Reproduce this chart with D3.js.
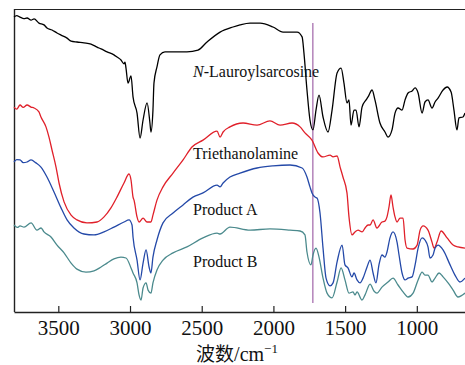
<!DOCTYPE html>
<html>
<head>
<meta charset="utf-8">
<script src="https://cdn.jsdelivr.net/npm/d3@7"></script>
<style>
  html, body { margin: 0; padding: 0; background: #fff; }
  svg { display: block; }
  .serif { font-family: "Liberation Serif", "Times New Roman", Times, serif; }
</style>
</head>
<body>
<svg id="chart" width="465" height="365"></svg>
<script>
// FTIR spectra: [wavenumber (cm-1), transmittance (a.u., offset for stacking)]
const lauroylsarcosine = [
  [3809,98.3],[3790,98.8],[3767,98.3],[3740,97.8],[3718,98],[3690,97.3],[3669,97.7],[3635,96.3],[3600,95.7],[3579,94.7],[3544,94],
  [3509,93],[3481,92.3],[3439,91.3],[3411,90.3],[3370,90],[3321,89.7],[3272,89.3],[3230,88.3],
  [3202,87.7],[3160,86.7],[3112,85.7],[3091,85],[3063,84],[3042,82.7],[3035,83.3],[3028,81.3],
  [3014,76.3],[2993,78.7],[2979,71.7],[2951,66.3],[2930,58],[2909,64],[2881,69.7],[2861,63],
  [2854,60],[2840,67.3],[2833,76.3],[2812,81.7],[2791,85.7],[2756,86.7],[2700,86.7],[2603,86.7],
  [2526,87.3],[2463,90],[2372,93.3],[2282,95],[2233,95.7],[2163,96.3],[2093,96.3],[2003,95],
  [1933,93.3],[1884,93.3],[1835,93.3],[1800,91.7],[1787,86.3],[1766,74],[1745,64],[1724,60.7],
  [1703,67.3],[1682,72.3],[1654,65],[1619,60],[1591,67.3],[1556,79.7],[1528,81.3],[1508,76.3],
  [1487,69.7],[1473,70.7],[1459,62.3],[1438,67.3],[1424,67.3],[1403,61.7],[1382,68.3],[1354,70.7],
  [1340,71.7],[1312,74],[1292,70.7],[1257,63],[1222,60],[1201,58.3],[1173,60.7],[1152,66.3],
  [1131,68],[1103,67.3],[1082,70.7],[1061,73],[1033,73.7],[1012,74.7],[991,73],[963,66.3],
  [943,70],[922,70.7],[894,68],[873,70],[852,71.3],[817,74],[789,75],[761,73.3],[741,67.3],
  [720,60.7],[706,64.7],[678,65],[664,66.3]
];

const triethanolamine = [
  [3809,68.3],[3790,67.6],[3767,69],[3745,68.2],[3718,69],[3690,68.3],[3669,68],[3635,66.7],[3621,65],[3586,61.7],
  [3565,58.3],[3544,54],[3516,48.3],[3495,43],[3460,36.7],[3411,32.3],[3370,30.7],[3300,29.7],
  [3230,30],[3181,31.7],[3133,34.7],[3091,38.3],[3042,43],[3007,46],[2993,44],[2979,38.3],
  [2972,37.3],[2951,31.7],[2937,30],[2909,31.3],[2881,30],[2854,30],[2840,32.3],[2812,37.3],
  [2770,41.7],[2700,46.3],[2630,50.7],[2568,55],[2491,57.3],[2393,60.3],[2372,58.3],[2351,60],
  [2303,61.7],[2212,63],[2114,62.3],[2024,63.7],[1954,62.3],[1870,63],[1814,61.7],[1780,59.7],
  [1731,57.3],[1689,53],[1654,51.7],[1605,52.3],[1584,51.7],[1556,52],[1535,48.3],[1515,45],
  [1487,39.7],[1473,31.7],[1452,25.7],[1431,26.7],[1410,27.3],[1382,26.7],[1361,28],[1340,29],
  [1326,29],[1305,30.7],[1278,28],[1243,30],[1222,30.3],[1208,31.7],[1194,35],[1180,39],
  [1166,35],[1152,31.7],[1138,30],[1117,31.3],[1096,31.3],[1082,24],[1068,21.3],[1026,21],
  [998,22.3],[977,27.3],[956,28.7],[922,27.3],[894,23.3],[880,21.3],[859,23.3],[831,27],
  [789,24.7],[747,22.3],[713,21.7],[664,21.3]
];

const productA = [
  [3809,50],[3790,50.8],[3767,50.7],[3745,49.8],[3718,50],[3690,50.7],[3656,49.7],[3621,48.3],[3579,45],[3530,40],
  [3481,34.7],[3439,30.7],[3391,28],[3321,26],[3251,25.7],[3181,26.7],[3112,28.3],[3042,30],
  [3007,30.7],[2986,29],[2979,25],[2951,17.3],[2930,10.7],[2909,16.3],[2888,20.7],[2867,15],
  [2854,13],[2840,18.3],[2812,24],[2770,29.7],[2700,33],[2630,35.7],[2561,38.3],[2491,39.7],
  [2393,42.3],[2372,41.7],[2351,43],[2303,45],[2233,46.3],[2114,48],[2003,48.7],[1884,49],
  [1800,48],[1766,45],[1745,41.7],[1731,39.7],[1710,38.3],[1696,38],[1675,33],[1654,21.3],
  [1633,11.3],[1605,8.7],[1584,9.7],[1556,16.7],[1521,22.3],[1501,15.7],[1480,14.7],[1452,11.7],
  [1438,13],[1417,10.7],[1396,9.7],[1375,11.3],[1347,15],[1326,17.3],[1305,13],[1285,9.7],
  [1264,15.7],[1243,19],[1222,18.3],[1208,20],[1187,24.7],[1166,26.7],[1138,23.3],[1124,19],
  [1103,13],[1082,10.7],[1061,11.3],[1033,11.7],[1012,15.7],[991,21.3],[963,24.7],[943,24],
  [922,21.7],[908,18],[887,19],[873,21.3],[852,22.3],[817,20.7],[768,15.7],[734,12.3],
  [699,10],[664,11.3]
];

const productB = [
  [3809,29],[3785,28.2],[3767,28.7],[3739,28.3],[3690,29.7],[3649,27.3],[3620,28],[3600,26.7],[3551,25],[3509,22.3],
  [3460,19.7],[3411,16.3],[3370,14.3],[3307,13.3],[3251,13.7],[3202,15],[3160,16.3],[3112,17.7],
  [3063,18.3],[3028,18],[2993,14.7],[2979,13],[2951,9.7],[2937,5.7],[2923,4],[2909,8],
  [2888,9.7],[2874,7.3],[2854,6.3],[2840,9.7],[2812,14],[2770,17.3],[2700,19.7],[2603,21.7],
  [2491,24.7],[2393,26.3],[2372,26],[2303,28.3],[2163,27.3],[2024,27.7],[1884,27.3],[1814,27],
  [1780,25.7],[1766,20],[1738,15.7],[1724,19],[1703,21.3],[1682,18.3],[1654,11.3],[1626,6.3],
  [1591,4.7],[1556,10],[1528,14.7],[1501,10.7],[1473,6.3],[1445,6.7],[1431,5.7],[1417,6.7],
  [1382,4],[1361,5.7],[1326,9.3],[1299,7],[1278,6.3],[1243,8.3],[1201,10],[1166,11.3],
  [1131,9],[1096,6.7],[1061,5],[1026,6.3],[991,10.7],[963,13.3],[943,12.3],[922,12.3],
  [894,10],[873,11.3],[845,13],[817,11.7],[782,9.7],[747,7.3],[713,5],[664,6.3]
];

const seriesNames = ["N-Lauroylsarcosine", "Triethanolamine", "Product A", "Product B"];
const seriesColors = ["#000000", "#e0202a", "#2449a8", "#4b8a8d"];
const tickValues = [3500, 3000, 2500, 2000, 1500, 1000];
const markerWavenumber = 1725;

const svg = d3.select("#chart");
const margin = { left: 14, right: 0, top: 9, bottom: 53 };
const W = 465, H = 365;

const x = d3.scaleLinear().domain([3809, 664]).range([margin.left, W - margin.right]);
const y = d3.scaleLinear().domain([0, 101]).range([H - margin.bottom, margin.top]);

// frame: top border and left axis line
svg.append("line")
  .attr("x1", margin.left).attr("x2", W)
  .attr("y1", margin.top + 0.5).attr("y2", margin.top + 0.5)
  .attr("stroke", "#222").attr("stroke-width", 1.2);
svg.append("line")
  .attr("x1", margin.left + 0.5).attr("x2", margin.left + 0.5)
  .attr("y1", margin.top).attr("y2", H - margin.bottom)
  .attr("stroke", "#222").attr("stroke-width", 1.4);

// bottom axis with inward ticks
const xAxis = d3.axisBottom(x)
  .tickValues(tickValues)
  .tickFormat(d3.format("d"))
  .tickSizeInner(-6).tickSizeOuter(0).tickPadding(8);
const gx = svg.append("g")
  .attr("transform", `translate(0,${H - margin.bottom})`)
  .call(xAxis)
  .attr("font-family", null);
gx.select(".domain").attr("stroke", "#222").attr("stroke-width", 1.4);
gx.selectAll(".tick line").attr("stroke", "#222").attr("stroke-width", 1.2);
gx.selectAll(".tick text")
  .attr("class", "serif")
  .style("font-size", "21px").attr("fill", "#111");

// reference line at the C=O band
svg.append("line")
  .attr("x1", x(markerWavenumber)).attr("x2", x(markerWavenumber))
  .attr("y1", 23).attr("y2", 303)
  .attr("stroke", "#a064a8").attr("stroke-width", 1.2);

// spectra
const line = d3.line()
  .x(d => x(d[0]))
  .y(d => y(d[1]))
  .curve(d3.curveMonotoneX);

const allSeries = [lauroylsarcosine, triethanolamine, productA, productB];
svg.append("g").selectAll("path")
  .data(allSeries)
  .join("path")
  .attr("d", line)
  .attr("fill", "none")
  .attr("stroke", (d, i) => seriesColors[i])
  .attr("stroke-width", 1.3)
  .attr("stroke-linejoin", "round");

// series labels
const labelPos = [[193, 77], [193, 159], [193, 215], [193, 267]];
seriesNames.forEach((name, i) => {
  const t = svg.append("text")
    .attr("class", "serif")
    .attr("x", labelPos[i][0]).attr("y", labelPos[i][1])
    .style("font-size", "16px").attr("fill", "#111");
  if (name.startsWith("N-")) {
    t.append("tspan").style("font-style", "italic").text("N");
    t.append("tspan").text(name.slice(1));
  } else {
    t.text(name);
  }
});

// axis title
const title = svg.append("text")
  .attr("class", "serif")
  .attr("x", 237).attr("y", 361)
  .attr("text-anchor", "middle")
  .style("font-size", "20px").attr("fill", "#111");
title.append("tspan").style("font-family", "'Noto Sans CJK SC', sans-serif").style("font-size", "19px").text("波数");
title.append("tspan").text("/cm");
title.append("tspan").style("font-size", "13px").attr("dy", -8).text("−1");
</script>
</body>
</html>
